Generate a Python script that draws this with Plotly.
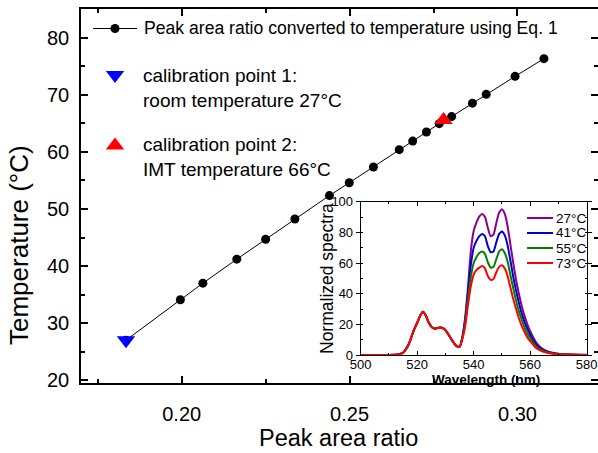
import plotly.graph_objects as go

W, H = 598, 453
FONT = "Liberation Sans, Arial, sans-serif"

# ---- main data ----
peak_ratio = [0.1834, 0.1996, 0.2063, 0.2164, 0.2250, 0.2337, 0.2440, 0.2499, 0.2571,
              0.2648, 0.2688, 0.2729, 0.2767, 0.2804, 0.2866, 0.2907, 0.2993, 0.3079]
temperature = [27.0, 34.1, 37.0, 41.2, 44.7, 48.25, 52.35, 54.6, 57.35,
               60.4, 61.9, 63.5, 64.95, 66.2, 68.55, 70.1, 73.25, 76.35]
calib1_ratio = [0.1834]
calib1_temp = [27.0]
calib2_ratio = [0.2780]
calib2_temp = [65.6]

# ---- inset data ----
wavelength = [500, 505, 510, 513, 515, 517, 518, 519, 520, 521, 522, 523, 524, 525, 526, 527,
              528, 529, 530, 531, 532, 533, 534, 535, 536,
              537, 538, 539, 540, 541, 542, 543, 544, 545, 546, 547, 548, 549, 550, 551, 552,
              553, 554, 555, 556, 557, 558, 559, 560,
              562, 564, 566, 568, 570, 575, 580]
low_band = [0, 0, 0, 0.3, 1.5, 7, 12, 17, 21, 25.5, 28.2, 26, 21.5, 18.5, 17.3, 17.5,
            18, 17.6, 16.2, 13.5, 10.5, 7.8, 5.8, 5.3]
spec_27 = low_band + [12, 25, 45, 68, 81, 86.5, 90.5, 92, 90, 83, 77.5, 78.5, 86, 93, 95, 92, 84,
                      72, 60, 49, 40, 32, 25.5, 20, 15.5, 8.5, 4.5, 2.5, 1.5, 0.9, 0.3, 0.1]
spec_41 = low_band + [11.5, 23, 41, 59, 70, 74.5, 77.5, 79, 77.5, 71, 67, 67.5, 73.5, 79, 80.5, 78, 71.5,
                      61.5, 51, 42, 34, 27, 21.5, 17, 13, 7, 3.7, 2, 1.2, 0.7, 0.2, 0.05]
spec_55 = low_band + [11, 21, 37, 51, 60, 64, 66.5, 67.5, 66, 60.5, 57, 57.5, 62.5, 67.5, 69, 66.5, 61,
                      52, 43.5, 35.5, 28.5, 23, 18, 14, 11, 5.8, 3.1, 1.7, 1, 0.6, 0.15, 0.05]
spec_73 = low_band + [10.5, 19, 33, 45, 52.5, 55.5, 57, 58, 56.5, 51.5, 49, 49.5, 54, 57.5, 58.5, 56.5, 51.5,
                      44, 36.5, 30, 24, 19, 15, 11.5, 9, 4.7, 2.5, 1.4, 0.8, 0.5, 0.1, 0]
spec_labels = ["27°C", "41°C", "55°C", "73°C"]
spec_colors = ["#8B008B", "#0000CD", "#008000", "#FF0000"]
spectra = [spec_27, spec_41, spec_55, spec_73]

x_ticks = [0.20, 0.25, 0.30]


def px(x):
    return x / W


def py(y):
    return 1 - y / H


fig = go.Figure()

# main series
fig.add_trace(go.Scatter(x=peak_ratio, y=temperature, mode="lines+markers",
                         line=dict(color="black", width=1),
                         marker=dict(color="black", size=9), showlegend=False))
fig.add_trace(go.Scatter(x=calib1_ratio, y=calib1_temp, mode="markers",
                         marker=dict(symbol="triangle-down", color="#0000FF", size=16),
                         showlegend=False))
fig.add_trace(go.Scatter(x=calib2_ratio, y=calib2_temp, mode="markers",
                         marker=dict(symbol="triangle-up", color="#FF0000", size=16),
                         showlegend=False))

# inset spectra
for s, c in zip(spectra, spec_colors):
    fig.add_trace(go.Scatter(x=wavelength, y=s, mode="lines", xaxis="x2", yaxis="y2",
                             line=dict(color=c, width=2, shape="spline", smoothing=0.5),
                             showlegend=False))

# legend symbols on a pixel overlay axis
fig.add_trace(go.Scatter(x=[93, 137], y=[28.5, 28.5], mode="lines", xaxis="x3", yaxis="y3",
                         line=dict(color="black", width=1), showlegend=False, hoverinfo="skip"))
fig.add_trace(go.Scatter(x=[115], y=[28.5], mode="markers", xaxis="x3", yaxis="y3",
                         marker=dict(color="black", size=9), showlegend=False, hoverinfo="skip"))
fig.add_trace(go.Scatter(x=[115], y=[75], mode="markers", xaxis="x3", yaxis="y3",
                         marker=dict(symbol="triangle-down", color="#0000FF", size=16),
                         showlegend=False, hoverinfo="skip"))
fig.add_trace(go.Scatter(x=[115], y=[145.5], mode="markers", xaxis="x3", yaxis="y3",
                         marker=dict(symbol="triangle-up", color="#FF0000", size=16),
                         showlegend=False, hoverinfo="skip"))
for i, c in enumerate(spec_colors):
    yy = 218 + i * 15
    fig.add_trace(go.Scatter(x=[527, 553], y=[yy, yy], mode="lines", xaxis="x3", yaxis="y3",
                             line=dict(color=c, width=2), showlegend=False, hoverinfo="skip"))

annotations = [
    dict(x=px(142), y=py(28.5), text="Peak area ratio converted to temperature using Eq. 1",
         font=dict(size=17.6)),
    dict(x=px(141), y=py(87.5), text="calibration point 1:<br>room temperature 27°C",
         font=dict(size=19)),
    dict(x=px(141), y=py(157), text="calibration point 2:<br>IMT temperature 66°C",
         font=dict(size=19)),
    dict(x=px(338), y=py(438), text="Peak area ratio", font=dict(size=23.5), xanchor="center"),
    dict(x=px(19), y=py(245), text="Temperature (°C)", font=dict(size=26), textangle=-90,
         xanchor="center"),
    dict(x=px(327), y=py(279), text="Normalized spectra", font=dict(size=17.5), textangle=-90,
         xanchor="center"),
    dict(x=px(486), y=py(379), text="<b>Wavelength (nm)</b>", font=dict(size=13.5),
         xanchor="center"),
]
for i, lab in enumerate(spec_labels):
    annotations.append(dict(x=px(554), y=py(218 + i * 15), text=lab, font=dict(size=13.5)))

for a in annotations:
    a.setdefault("xref", "paper")
    a.setdefault("yref", "paper")
    a.setdefault("xanchor", "left")
    a.setdefault("yanchor", "middle")
    a.setdefault("align", "left")
    a.setdefault("showarrow", False)
    a["font"].setdefault("family", FONT)
    a["font"].setdefault("color", "black")

axis_common = dict(showline=True, linecolor="black", mirror="allticks", showgrid=False,
                   zeroline=False, tickcolor="black", ticks="inside", automargin=False,
                   tickfont=dict(family=FONT, color="black"))

fig.update_layout(
    template="none",
    width=W, height=H,
    margin=dict(l=0, r=0, t=0, b=0, pad=0),
    paper_bgcolor="white", plot_bgcolor="rgba(0,0,0,0)",
    font=dict(family=FONT, color="black"),
    xaxis=dict(axis_common, domain=[px(81), 1.0], range=[0.170, 0.324],
               tickvals=x_ticks, tickformat=".2f", ticklen=7, tickwidth=1.5, linewidth=1.5,
               tickfont=dict(family=FONT, size=20, color="black"), ticklabelstandoff=12,
               minor=dict(ticks="inside", dtick=0.025, tick0=0.2, ticklen=4, tickcolor="black")),
    yaxis=dict(axis_common, domain=[1 - 383 / H, 1 - 9.3 / H], range=[19.5, 85],
               dtick=10, tick0=20, ticklen=7, tickwidth=1.5, linewidth=1.5,
               tickfont=dict(family=FONT, size=20, color="black"), ticklabelstandoff=6,
               minor=dict(ticks="inside", dtick=5, ticklen=4, tickcolor="black")),
    xaxis2=dict(axis_common, domain=[px(360.7), px(586.7)], range=[500, 580], anchor="y2",
                dtick=20, tick0=500, ticklen=4, tickwidth=1, linewidth=1,
                tickfont=dict(family=FONT, size=13, color="black"), ticklabelstandoff=-3,
                minor=dict(ticks="inside", dtick=10, ticklen=2, tickcolor="black")),
    yaxis2=dict(axis_common, domain=[py(355), py(201.7)], range=[0, 100], anchor="x2",
                dtick=20, ticklen=4, tickwidth=1, linewidth=1, ticks="outside",
                tickfont=dict(family=FONT, size=13, color="black"), ticklabelstandoff=0,
                minor=dict(ticks="inside", dtick=10, ticklen=2, tickcolor="black")),
    xaxis3=dict(domain=[0, 1], range=[0, W], visible=False, anchor="y3", fixedrange=True,
                automargin=False),
    yaxis3=dict(domain=[0, 1], range=[H, 0], visible=False, anchor="x3", fixedrange=True,
                automargin=False),
    annotations=annotations,
)

fig.write_html("out.html", config={"displayModeBar": False},
               post_script="document.body.style.margin='0';document.body.style.overflow='hidden';")
